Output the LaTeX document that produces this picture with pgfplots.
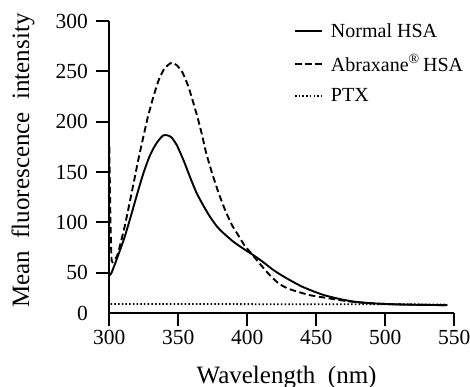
\documentclass[border=0pt]{standalone}
\usepackage{pgfplots}
\pgfplotsset{compat=1.18}
\usepackage{fontspec}
\setmainfont{Liberation Serif}
\begin{document}
\begin{tikzpicture}
\begin{axis}[
  at={(0,0)}, anchor=south west,
  scale only axis, width=345bp, height=292bp,
  xmin=300, xmax=550, ymin=10, ymax=300,
  axis x line=bottom, axis y line=left,
  axis line style={-, line width=2.2bp},
  xtick={300,350,...,550}, ytick={50,100,...,300},
  extra y ticks={10}, extra y tick labels={0},
  extra y tick style={tick style={draw=none}},
  tick align=outside, major tick length=13bp,
  tick style={line width=2.2bp, black},
  /pgf/number format/assume math mode=true,
  ticklabel style={font=\fontsize{21.5bp}{25bp}\selectfont},
  yticklabel style={xshift=-5bp},
  xticklabel style={yshift=-1bp},
  clip=false,
  every axis y label/.style={at={(axis description cs:-0.25,0.522)}, rotate=90, anchor=center},
  every axis x label/.style={at={(axis description cs:0.514,-0.24)}, anchor=base},
  xlabel={Wavelength\ \ (nm)},
  ylabel={Mean\ \ fluorescence\ \ intensity},
  label style={font=\fontsize{25bp}{29bp}\selectfont},
  legend style={draw=none, fill=none, at={(axis description cs:0.535,1.0)}, anchor=north west,
    font=\fontsize{20bp}{24bp}\selectfont, row sep=12bp, inner sep=0pt},
  legend cell align=left,
  legend image code/.code={\draw[#1] (0bp,0bp) -- (27bp,0bp); \path (33bp,0bp);},
]
\addplot[black, line width=1.9bp, smooth, tension=0.4] coordinates {
(300,48) (301.3,49) (305,62) (311,85) (316,108) (321,132) (325,150) (329,165)
(333,176) (336,182) (339,186.3) (342,186.5) (345,184.5) (349,176.5) (354,161)
(358.5,145) (363,130) (368,117) (373,105.5) (378,96) (383,89) (390,80.7) (397,74)
(406,66) (412,60) (419,52.6) (426,46.5) (433,41) (440,36) (448,31.5) (455,28)
(462,25.5) (470,23) (479,21) (490,19.7) (503,18.8) (520,18.2) (545,17.8)
};
\addlegendentry{Normal HSA}
\addplot[black, line width=1.9bp, dash pattern=on 6.5bp off 3.5bp, smooth, tension=0.3] coordinates {
(300,175) (300.5,130) (301,90) (301.7,62) (303,61) (306,68) (311,95) (316,128)
(321,162) (325,187) (328,205) (332,225) (336,242) (340,253) (345,258.5) (349,256)
(353,249) (357,236) (360,223) (364,204) (367,188) (370,170) (374,151) (379,130)
(384,112) (389,97) (394,86) (398,77) (403,69) (409,59) (416,48) (423,39)
(430,34) (438,30.5) (446,27.5) (455,25.5) (466,23) (477,21) (490,19.6) (503,18.8)
(520,18.2) (545,17.8)
};
\addlegendentry{Abraxane\textsuperscript{®}\,HSA}
\addplot[black, line width=1.8bp, dash pattern=on 1.5bp off 2.2bp] coordinates {
(301,19) (350,19) (400,18.8) (450,18.7) (500,18.6) (545,18.5)
};
\addlegendentry{PTX}
\end{axis}
\pgfresetboundingbox
\path[use as bounding box] (-109.3bp,-74bp) rectangle (360.7bp,313bp);
\end{tikzpicture}
\end{document}
